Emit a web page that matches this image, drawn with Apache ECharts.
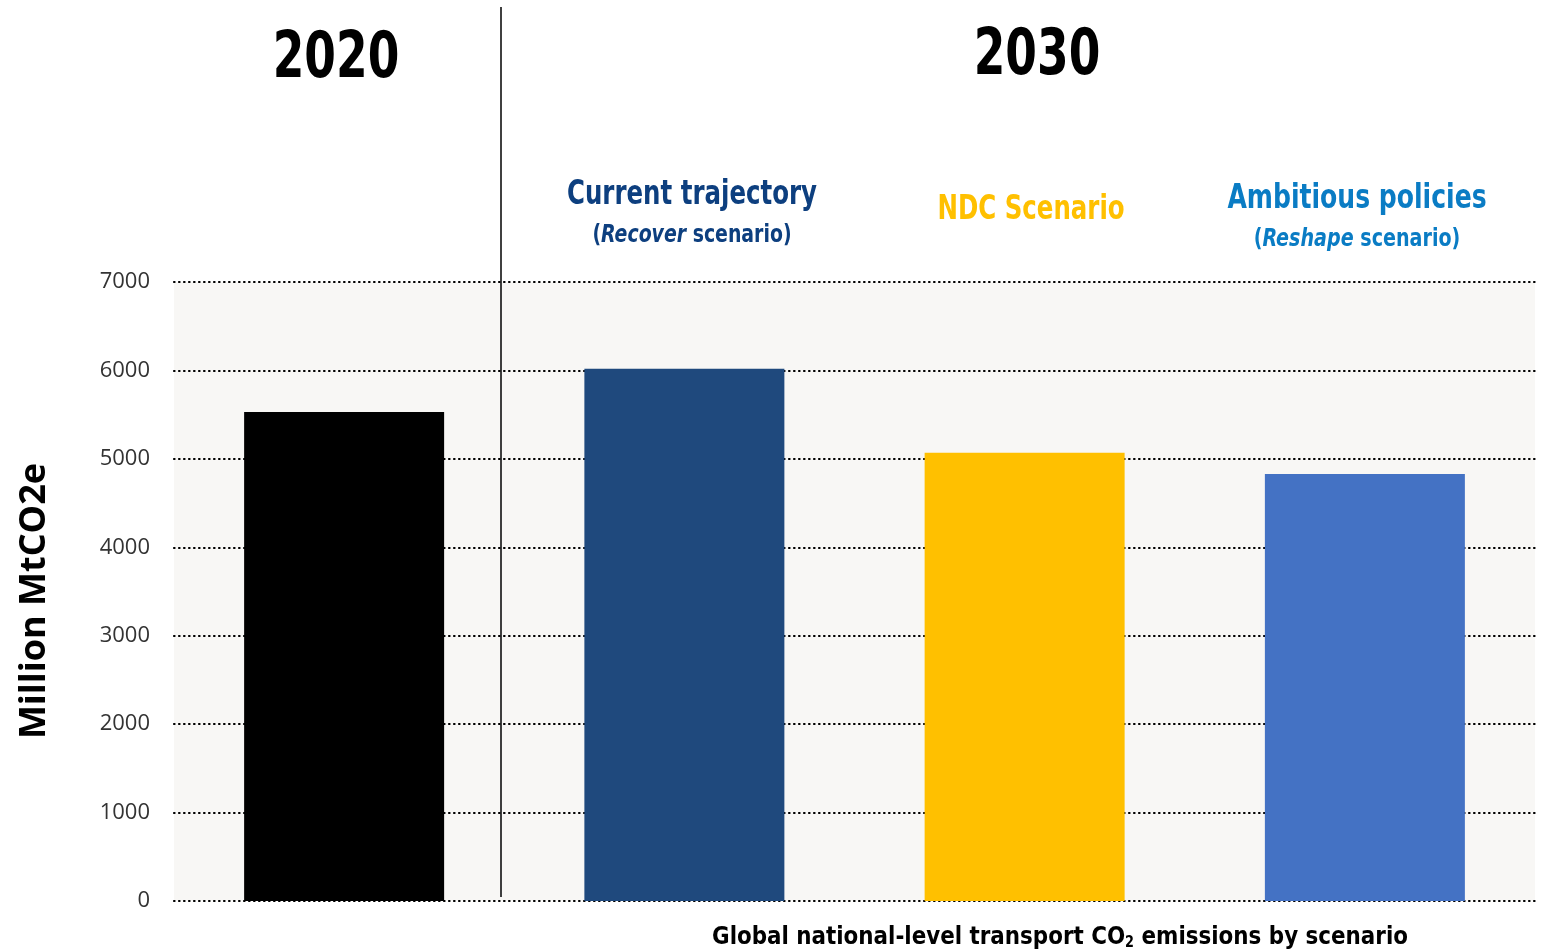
<!DOCTYPE html>
<html><head><meta charset="utf-8">
<script src="https://cdn.jsdelivr.net/npm/echarts@6/dist/echarts.min.js"></script>
<style>html,body{margin:0;padding:0;background:#fff}#c{width:1545px;height:952px}</style>
</head><body><div id="c"></div>
<script>
const categories = ['2020', 'Current trajectory', 'NDC Scenario', 'Ambitious policies'];
const values = [5530, 6020, 5070, 4830];
const barColors = ['#000000', '#1f497d', '#ffc000', '#4472c4'];
const yTicks = { min: 0, max: 7000, interval: 1000 };
const cond = '"Liberation Sans Narrow","DejaVu Sans Condensed",sans-serif';

const chart = echarts.init(document.getElementById('c'));
chart.setOption({
  animation: false,
  grid: { left: 174, right: 10, top: 282, bottom: 51, show: true, backgroundColor: '#f8f7f5', borderWidth: 0 },
  xAxis: { type: 'category', data: categories, axisLine: { show: false }, axisTick: { show: false }, axisLabel: { show: false } },
  yAxis: {
    type: 'value', min: yTicks.min, max: yTicks.max, interval: yTicks.interval,
    axisLine: { show: false }, axisTick: { show: false },
    axisLabel: { fontFamily: '"Open Sans",sans-serif', fontSize: 22, color: '#333', margin: 24, padding: [3, 0, 0, 0], formatter: v => String(v) },
    splitLine: { lineStyle: { color: '#000', width: 2.2, type: [0.6, 4.4], cap: 'round' } }
  },
  series: [{
    type: 'bar', barWidth: 200,
    data: values.map((v, i) => ({ value: v, itemStyle: { color: barColors[i] } }))
  }],
  graphic: [
    { type: 'line', shape: { x1: 501, y1: 7, x2: 501, y2: 897 }, style: { stroke: '#000', lineWidth: 1.5 }, z: 10 },
    { type: 'text', x: 35, y: 601, rotation: Math.PI / 2, style: { text: 'Million MtCO2e', font: 'bold 36px "Open Sans",sans-serif', fill: '#000', align: 'center', verticalAlign: 'middle' } },
    { type: 'text', x: 336, y: 60, scaleX: 0.79, style: { text: '2020', font: 'bold 64px ' + cond, fill: '#000', align: 'center', verticalAlign: 'middle' } },
    { type: 'text', x: 1037, y: 57, scaleX: 0.79, style: { text: '2030', font: 'bold 64px ' + cond, fill: '#000', align: 'center', verticalAlign: 'middle' } },
    { type: 'text', x: 692, y: 195, scaleX: 0.8, style: { text: 'Current trajectory', font: 'bold 34px ' + cond, fill: '#0d3f7f', align: 'center', verticalAlign: 'middle' } },
    { type: 'text', x: 692, y: 235, scaleX: 0.84, style: {
      text: '{n|(}{i|Recover}{n| scenario)}', align: 'center', verticalAlign: 'middle',
      rich: { n: { font: 'bold 25px ' + cond, fill: '#0d3f7f' }, i: { font: 'italic bold 25px ' + cond, fill: '#0d3f7f' } } } },
    { type: 'text', x: 1031, y: 210, scaleX: 0.8, style: { text: 'NDC Scenario', font: 'bold 34px ' + cond, fill: '#ffc000', align: 'center', verticalAlign: 'middle' } },
    { type: 'text', x: 1357, y: 199, scaleX: 0.82, style: { text: 'Ambitious policies', font: 'bold 34px ' + cond, fill: '#0a7cc4', align: 'center', verticalAlign: 'middle' } },
    { type: 'text', x: 1357, y: 239, scaleX: 0.85, style: {
      text: '{n|(}{i|Reshape}{n| scenario)}', align: 'center', verticalAlign: 'middle',
      rich: { n: { font: 'bold 25px ' + cond, fill: '#0a7cc4' }, i: { font: 'italic bold 25px ' + cond, fill: '#0a7cc4' } } } },
    { type: 'text', x: 1060, y: 937, scaleX: 0.953, style: {
      text: '{a|Global national-level transport CO}{s|2}{a| emissions by scenario}', align: 'center', verticalAlign: 'middle',
      rich: { a: { font: 'bold 25px ' + cond, fill: '#000' }, s: { font: 'bold 15px ' + cond, fill: '#000', padding: [13, 0, 0, 0] } } } }
  ]
});
</script></body></html>
